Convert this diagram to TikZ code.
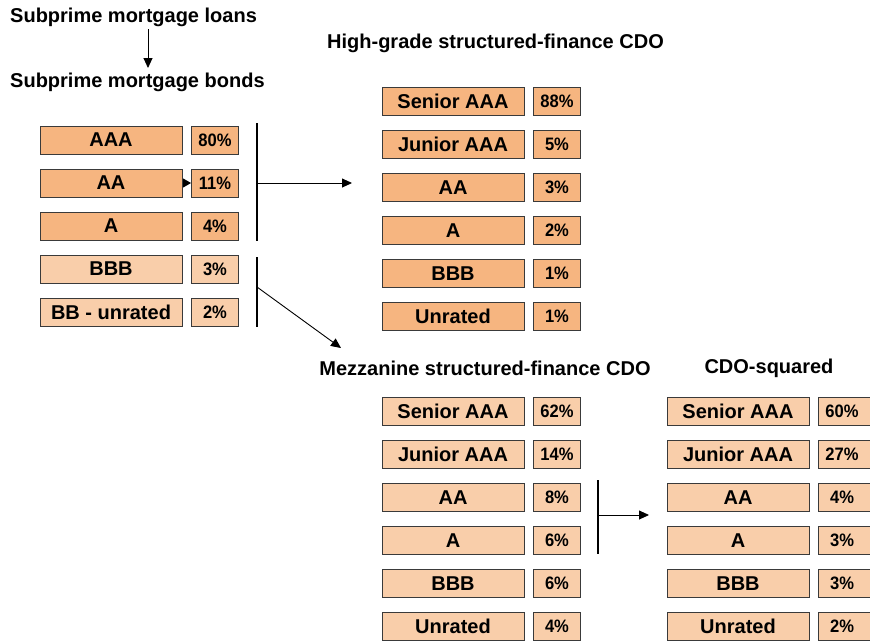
\documentclass[tikz,border=0pt]{standalone}
\usepackage{fontspec}
\setmainfont{Liberation Sans}
\newfontfamily\pctfont[FakeStretch=0.92]{Liberation Sans}
\usetikzlibrary{arrows.meta}
\definecolor{darkor}{HTML}{F6B580}
\definecolor{lightor}{HTML}{F9CEAA}
\definecolor{edge}{HTML}{3A3A3A}
\tikzset{
  lbl/.style={draw=edge, line width=1pt, minimum width=142pt, minimum height=28pt, inner sep=0pt,
    font=\fontsize{20}{21}\selectfont\bfseries},
  pct/.style={draw=edge, line width=1pt, minimum width=47pt, minimum height=28pt, inner sep=0pt,
    font=\pctfont\fontsize{18}{19}\selectfont\bfseries},
  pctcut/.style={pct, minimum width=56pt},
  dk/.style={fill=darkor},
  lt/.style={fill=lightor},
  ttl/.style={inner sep=0pt, font=\fontsize{20}{21}\selectfont\bfseries},
  bar/.style={line width=2pt},
  arr/.style={line width=0.9pt, -{Triangle[length=10pt,width=9pt]}},
}
\newcommand{\cutpct}[1]{\makebox[48pt]{#1}\hspace*{8pt}}
\begin{document}
\begin{tikzpicture}[x=1pt,y=-1pt]
\useasboundingbox (0,0) rectangle (870,641);
% headings
\node[ttl, anchor=west] (loans) at (10,17) {Subprime mortgage loans};
\node[ttl, anchor=west] (bonds) at (10,82) {Subprime mortgage bonds};
\coordinate (a1) at (148,29);
\coordinate (a2) at (148,68);
\draw[arr] (a1) -- (a2);
\node[ttl] (hgt) at (495.5,43) {High-grade structured-finance CDO};
\node[ttl] (mzt) at (485,368) {Mezzanine structured-finance CDO};
\node[ttl] (sqt) at (769,368) {CDO-squared};
% left column
\node[lbl,dk] (l1) at (111,140) {AAA};        \node[pct,dk] (p1) at (215,140) {80\%};
\node[lbl,dk] (l2) at (111,183) {AA};         \node[pct,dk] (p2) at (215,183) {11\%};
\node[lbl,dk] (l3) at (111,226) {A};          \node[pct,dk] (p3) at (215,226) {4\%};
\node[lbl,lt] (l4) at (111,269) {BBB};        \node[pct,lt] (p4) at (215,269) {3\%};
\node[lbl,lt] (l5) at (111,312) {BB - unrated}; \node[pct,lt] (p5) at (215,312) {2\%};
\draw[-{Triangle[length=8pt,width=9pt]}, line width=0.8pt] (l2.east) -- (p2.west);
% high-grade CDO
\node[lbl,dk] (h1) at (453,101.5) {Senior AAA}; \node[pct,dk] (hp1) at (557,101.5) {88\%};
\node[lbl,dk] (h2) at (453,144.5) {Junior AAA}; \node[pct,dk] (hp2) at (557,144.5) {5\%};
\node[lbl,dk] (h3) at (453,187.5) {AA};         \node[pct,dk] (hp3) at (557,187.5) {3\%};
\node[lbl,dk] (h4) at (453,230.5) {A};          \node[pct,dk] (hp4) at (557,230.5) {2\%};
\node[lbl,dk] (h5) at (453,273.5) {BBB};        \node[pct,dk] (hp5) at (557,273.5) {1\%};
\node[lbl,dk] (h6) at (453,316.5) {Unrated};    \node[pct,dk] (hp6) at (557,316.5) {1\%};
% mezzanine CDO
\node[lbl,lt] (m1) at (453,411.5) {Senior AAA}; \node[pct,lt] (mp1) at (557,411.5) {62\%};
\node[lbl,lt] (m2) at (453,454.5) {Junior AAA}; \node[pct,lt] (mp2) at (557,454.5) {14\%};
\node[lbl,lt] (m3) at (453,497.5) {AA};         \node[pct,lt] (mp3) at (557,497.5) {8\%};
\node[lbl,lt] (m4) at (453,540.5) {A};          \node[pct,lt] (mp4) at (557,540.5) {6\%};
\node[lbl,lt] (m5) at (453,583.5) {BBB};        \node[pct,lt] (mp5) at (557,583.5) {6\%};
\node[lbl,lt] (m6) at (453,626.5) {Unrated};    \node[pct,lt] (mp6) at (557,626.5) {4\%};
% CDO-squared
\node[lbl,lt] (s1) at (738,411.5) {Senior AAA}; \node[pctcut,lt] (sp1) at (846,411.5) {\cutpct{60\%}};
\node[lbl,lt] (s2) at (738,454.5) {Junior AAA}; \node[pctcut,lt] (sp2) at (846,454.5) {\cutpct{27\%}};
\node[lbl,lt] (s3) at (738,497.5) {AA};         \node[pctcut,lt] (sp3) at (846,497.5) {\cutpct{4\%}};
\node[lbl,lt] (s4) at (738,540.5) {A};          \node[pctcut,lt] (sp4) at (846,540.5) {\cutpct{3\%}};
\node[lbl,lt] (s5) at (738,583.5) {BBB};        \node[pctcut,lt] (sp5) at (846,583.5) {\cutpct{3\%}};
\node[lbl,lt] (s6) at (738,626.5) {Unrated};    \node[pctcut,lt] (sp6) at (846,626.5) {\cutpct{2\%}};
% bars and arrows
\coordinate (b1t) at (257,123); \coordinate (b1b) at (257,241);
\coordinate (b2t) at (257,257); \coordinate (b2b) at (257,327);
\coordinate (b3t) at (598,480); \coordinate (b3b) at (598,554);
\draw[bar] (b1t) -- (b1b);
\draw[bar] (b2t) -- (b2b);
\draw[bar] (b3t) -- (b3b);
\coordinate (s1o) at (257,183); \coordinate (e1) at (352,183);
\coordinate (s2o) at (257,287); \coordinate (e2) at (341,348);
\coordinate (s3o) at (598,515); \coordinate (e3) at (649,515);
\draw[arr] (s1o) -- (e1);
\draw[arr] (s2o) -- (e2);
\draw[arr] (s3o) -- (e3);
\end{tikzpicture}
\end{document}
